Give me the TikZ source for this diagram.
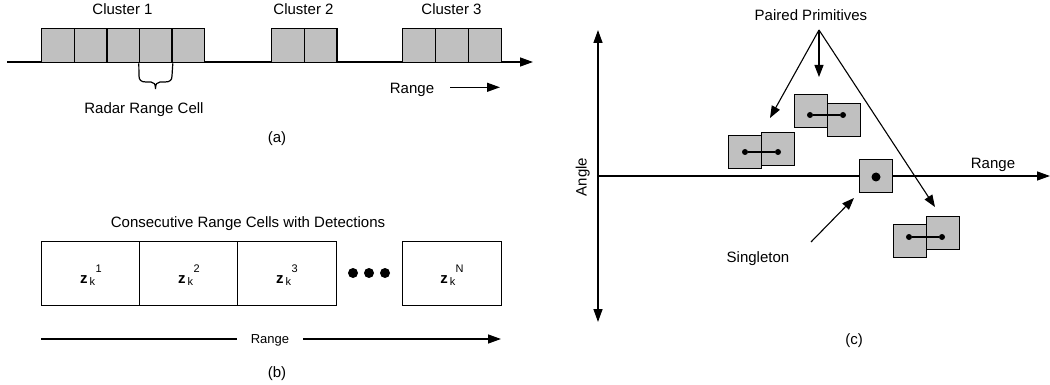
\documentclass[tikz,border=0pt]{standalone}
\usepackage{fontspec}
\setmainfont{Liberation Sans}
\usetikzlibrary{arrows.meta}
\definecolor{cellgray}{RGB}{192,192,192}
\newcommand{\zsym}[1]{\textbf{z}\kern2pt\raisebox{-2pt}{\fontsize{11}{12}\selectfont k}\kern0.3pt\raisebox{11pt}{\fontsize{11}{12}\selectfont #1}}
\begin{document}
\begin{tikzpicture}[x=1pt,y=-1pt,
  lbl/.style={font=\fontsize{15}{18}\selectfont, inner sep=0pt, anchor=base},
  slbl/.style={font=\fontsize{13}{15}\selectfont, inner sep=0pt, anchor=base},
  cell/.style={draw, line width=1.4pt, fill=cellgray, minimum width=32.6pt, minimum height=34pt, inner sep=0pt, anchor=north west},
  wcell/.style={draw, line width=1.4pt, fill=white, minimum width=98.5pt, minimum height=64pt, inner sep=0pt, anchor=north west},
  sq/.style={draw, line width=1.4pt, fill=cellgray, minimum size=33pt, inner sep=0pt, anchor=north west},
  pdot/.style={circle, fill=black, minimum size=6pt, inner sep=0pt},
  bdot/.style={circle, fill=black, minimum size=10pt, inner sep=0pt},
  axis/.style={line width=1.4pt},
  tip/.style={-{Triangle[length=13pt,width=9pt]}},
  dtip/.style={{Triangle[length=13pt,width=9pt]}-{Triangle[length=13pt,width=9pt]}},
  ltip/.style={line width=1.1pt, -{Triangle[length=12pt,width=9pt]}}
]
\useasboundingbox (0,0) rectangle (1050,385);

% ---------- panel (a) ----------
\coordinate (aS) at (7,62);
\coordinate (aE) at (533,62);
\draw[axis, tip] (aS) -- (aE);
\foreach \i/\x in {1/41,2/73.6,3/106.2,4/138.8,5/171.4}
  \node[cell] (ca\i) at (\x,28) {};
\foreach \i/\x in {1/271,2/303.5}
  \node[cell] (cb\i) at (\x,28) {};
\foreach \i/\x in {1/402,2/435,3/468}
  \node[cell] (cc\i) at (\x,28) {};
\node[lbl] (cl1) at (122.5,15) {Cluster 1};
\node[lbl] (cl2) at (303.5,15) {Cluster 2};
\node[lbl] (cl3) at (451.5,15) {Cluster 3};
\draw[line width=1.2pt] (ca4.south west) -- (139,76) .. controls (139,80) and (141,82) .. (146,82) -- (151,82)
  .. controls (154,82) and (155.5,84) .. (155.5,89)
  .. controls (155.5,84) and (157,82) .. (160,82) -- (165,82)
  .. controls (170,82) and (172,80) .. (172,76) -- (ca4.south east);
\node[lbl] (rrc) at (144,113.5) {Radar Range Cell};
\node[lbl] (rga) at (412,94) {Range};
\coordinate (raS) at (450,87.3);
\coordinate (raE) at (500,87.3);
\draw[line width=1.4pt, tip] (raS) -- (raE);
\node[lbl] (capa) at (277,143) {(a)};

% ---------- panel (b) ----------
\node[lbl] (title) at (248,227) {Consecutive Range Cells with Detections};
\node[wcell] (z1) at (41,241) {};
\node[wcell] (z2) at (139,241) {};
\node[wcell] (z3) at (237,241) {};
\node[wcell] (zN) at (402,241) {};
\node[lbl] (t1) at ([yshift=-10pt]z1.center) {\zsym{1}};
\node[lbl] (t2) at ([yshift=-10pt]z2.center) {\zsym{2}};
\node[lbl] (t3) at ([yshift=-10pt]z3.center) {\zsym{3}};
\node[lbl] (tN) at ([yshift=-10pt]zN.center) {\zsym{N}};
\node[bdot] (d1) at (353,273) {};
\node[bdot] (d2) at (369,273) {};
\node[bdot] (d3) at (385,273) {};
\node[slbl] (rgb) at (270,343.5) {Range};
\coordinate (rbS) at (41,339);
\coordinate (rbM) at (237,339);
\coordinate (rbN) at (303,339);
\coordinate (rbE) at (501,339);
\draw[line width=1.4pt] (rbS) -- (rbM);
\draw[line width=1.4pt, tip] (rbN) -- (rbE);
\node[lbl] (capb) at (277,377) {(b)};

% ---------- panel (c) ----------
\coordinate (vT) at (598,30);
\coordinate (vB) at (598,322);
\coordinate (hS) at (598,176);
\coordinate (hE) at (1050,176);
\draw[axis, dtip] (vT) -- (vB);
\draw[axis, tip] (hS) -- (hE);
\node[lbl, rotate=90] (ang) at (586.5,177) {Angle};
\node[lbl] (rgc) at (993,168) {Range};

\node[sq] (p1a) at (728,135) {};
\node[sq] (p1b) at (761,132) {};
\node[sq] (p2a) at (794,94) {};
\node[sq] (p2b) at (827,103) {};
\node[sq] (sg) at (859,159) {};
\node[sq] (p3a) at (893,224) {};
\node[sq] (p3b) at (926,216) {};

\node[pdot] (q1a) at (745,152) {};
\node[pdot] (q1b) at (778,152) {};
\node[pdot] (q2a) at (810,115) {};
\node[pdot] (q2b) at (843,115) {};
\node[pdot] (q3a) at (909,237) {};
\node[pdot] (q3b) at (942,237) {};
\node[circle, fill=black, minimum size=9pt, inner sep=0pt] (qs) at (876,177) {};
\draw[line width=1.4pt] (q1a) -- (q1b);
\draw[line width=1.4pt] (q2a) -- (q2b);
\draw[line width=1.4pt] (q3a) -- (q3b);

\node[lbl] (pp) at (811,20.7) {Paired Primitives};
\coordinate (apex) at (819,30);
\coordinate (e1) at (770,118);
\coordinate (e2) at (819,77);
\coordinate (e3) at (935,207);
\draw[ltip] (apex) -- (e1);
\draw[ltip] (apex) -- (e2);
\draw[ltip] (apex) -- (e3);

\node[lbl] (sgl) at (758,262) {Singleton};
\coordinate (sS) at (811,242);
\coordinate (sE) at (854,198);
\draw[ltip] (sS) -- (sE);
\node[lbl] (capc) at (854,344) {(c)};
\end{tikzpicture}
\end{document}
